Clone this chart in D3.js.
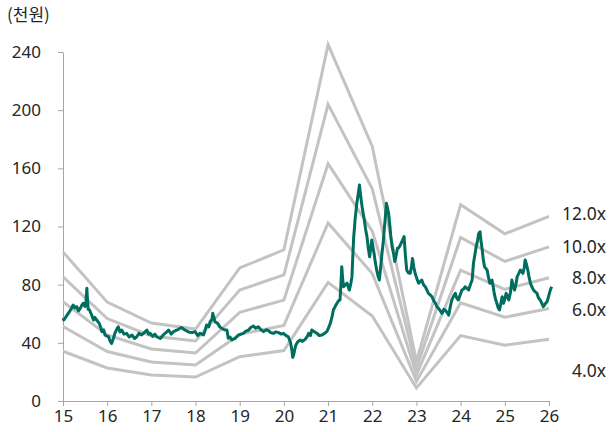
<!DOCTYPE html>
<html>
<head>
<meta charset="utf-8">
<script src="https://cdnjs.cloudflare.com/ajax/libs/d3/7.8.5/d3.min.js"></script>
<style>
  body { margin: 0; background: #fff; }
  .tick text { font-family: "Noto Sans", "DejaVu Sans", sans-serif; font-size: 17px; fill: #262626; }
  .axis path, .axis line { stroke: #a6a6a6; }
  .bandLabel { font-family: "Noto Sans", sans-serif; font-size: 17.5px; fill: #262626; }
</style>
</head>
<body>
<div id="chart"></div>
<script>
// yearly points of the PER band lines (thousand won)
var bandYears = [15, 16, 17, 18, 19, 20, 21, 22, 23, 24, 25, 26];
var band12 = [102.5, 68.0, 53.6, 49.5, 91.5, 104.0, 245.0, 175.0, 27.0, 135.0, 115.0, 127.0];
var band10 = [85.4, 56.7, 44.7, 41.3, 76.3, 86.7, 204.0, 146.0, 22.5, 112.5, 96.0, 106.0];
var band8 = [68.3, 45.4, 35.8, 33.0, 61.0, 69.4, 163.2, 116.8, 18.0, 90.0, 76.8, 84.8];
var band6 = [51.2, 34.0, 26.8, 24.8, 45.8, 52.0, 122.4, 87.6, 13.5, 67.5, 57.6, 63.6];
var band4 = [34.2, 22.7, 17.9, 16.5, 30.5, 34.7, 81.6, 58.4, 9.0, 45.0, 38.4, 42.4];
var bandNames = ["12.0x", "10.0x", "8.0x", "6.0x", "4.0x"];

// share price
var priceX = [15.00, 15.02, 15.07, 15.12, 15.18, 15.23, 15.27, 15.31, 15.35, 15.39, 15.43, 15.46, 15.50, 15.52, 15.54, 15.55, 15.57, 15.60, 15.65, 15.69, 15.72, 15.75, 15.82, 15.86, 15.88, 15.92, 15.95,
  16.00, 16.03, 16.07, 16.10, 16.14, 16.18, 16.22, 16.25, 16.29, 16.33, 16.38, 16.44, 16.50, 16.56, 16.62, 16.67, 16.72, 16.78, 16.84, 16.90, 16.94, 16.97,
  17.03, 17.08, 17.12, 17.20, 17.27, 17.33, 17.39, 17.45, 17.50, 17.56, 17.61, 17.68, 17.76, 17.84, 17.92, 17.99,
  18.05, 18.10, 18.18, 18.22, 18.25, 18.30, 18.33, 18.37, 18.39, 18.42, 18.44, 18.50, 18.55, 18.59, 18.65, 18.71, 18.74, 18.78, 18.82, 18.90, 18.97,
  19.03, 19.08, 19.14, 19.20, 19.25, 19.31, 19.36, 19.42, 19.48, 19.54, 19.60, 19.65, 19.70, 19.76, 19.82, 19.88, 19.94, 19.99,
  20.05, 20.10, 20.15, 20.18, 20.20, 20.22, 20.25, 20.27, 20.32, 20.37, 20.42, 20.48, 20.53, 20.56, 20.60, 20.63, 20.70, 20.75, 20.80, 20.86, 20.92, 20.97,
  21.00, 21.05, 21.09, 21.12, 21.16, 21.20, 21.24, 21.27, 21.29, 21.31, 21.33, 21.35, 21.39, 21.43, 21.46, 21.48, 21.51, 21.54, 21.56, 21.58, 21.60, 21.61, 21.63, 21.65, 21.68, 21.71, 21.73, 21.75, 21.77, 21.80, 21.82, 21.85, 21.88, 21.91, 21.94, 21.97, 21.99,
  22.02, 22.04, 22.07, 22.10, 22.13, 22.16, 22.19, 22.22, 22.25, 22.27, 22.30, 22.32, 22.35, 22.37, 22.40, 22.42, 22.45, 22.48, 22.51, 22.54, 22.57, 22.59, 22.63, 22.67, 22.72, 22.75, 22.78, 22.82, 22.86, 22.89, 22.91, 22.94, 22.97,
  23.01, 23.05, 23.08, 23.12, 23.16, 23.20, 23.24, 23.27, 23.31, 23.35, 23.39, 23.43, 23.46, 23.50, 23.54, 23.58, 23.62, 23.65, 23.69, 23.73, 23.76, 23.80, 23.84, 23.88, 23.91, 23.95, 23.99,
  24.03, 24.07, 24.10, 24.14, 24.18, 24.22, 24.26, 24.29, 24.32, 24.35, 24.38, 24.41, 24.44, 24.46, 24.48, 24.51, 24.54, 24.60, 24.63, 24.66, 24.71, 24.74, 24.76, 24.79, 24.82, 24.85, 24.88, 24.91, 24.94, 24.97,
  25.00, 25.03, 25.06, 25.09, 25.13, 25.16, 25.19, 25.22, 25.25, 25.28, 25.32, 25.35, 25.38, 25.41, 25.44, 25.46, 25.49, 25.52, 25.55, 25.58, 25.62, 25.65, 25.69, 25.73, 25.76, 25.80, 25.84, 25.87, 25.90, 25.92, 25.95, 25.97,
  26.00, 26.03, 26.06];
var priceY = [57, 55.7, 58, 60.3, 63, 66, 64, 64.9, 62, 63.7, 66, 67.2, 65, 68.3, 77.5, 72, 63, 62.6, 59, 55.7, 57.5, 56.2, 53.4, 50, 47.7, 49, 45.4,
  44.5, 44.2, 41, 39.5, 43, 47, 49.5, 51, 47.5, 48.8, 46, 46.5, 44, 45.4, 43, 44.2, 46.5, 45.4, 47, 48.8, 46, 46.5,
  44.5, 46, 44.2, 43, 45.4, 47, 48.8, 46, 47.7, 48.5, 49.3, 50.5, 48.8, 47.5, 47, 47.7,
  45, 46.5, 45.4, 49, 52.3, 51, 54.5, 56, 60.3, 57, 54.5, 53.4, 51, 50, 49, 48.8, 43.1, 44, 42, 43.1, 45.4,
  46, 46.5, 48, 48.8, 50.5, 51.6, 50, 51.1, 49, 47.7, 49, 48.4, 47, 46.5, 47.5, 47, 46, 46.5,
  45, 44.2, 40, 35, 30, 31.6, 36, 38.5, 41, 42, 41, 42.4, 44.5, 46.5, 45, 48.8, 47.5, 46.5, 45, 45.4, 46.5, 47.7,
  49.5, 53.4, 58, 62.6, 65, 67.2, 69, 69.5, 80, 92.4, 84, 78.6, 80, 81, 78, 76.3, 80, 85.5, 100, 113, 120, 124.5, 130, 136, 142, 148.6, 143, 138, 133.6, 128, 124.5, 118, 113, 105, 99.2, 106, 110.7,
  105, 101.6, 95, 90, 86, 83.2, 92, 101.6, 110, 117.6, 128, 136, 132, 129, 120, 113, 106, 101.6, 96, 100, 105, 105, 107, 109.6, 113, 100, 90, 88, 87.8, 93, 98, 92, 87.8,
  84, 81, 82, 83.2, 80, 78.6, 76, 74, 73, 71.7, 69, 67.2, 65, 63.7, 62, 60.3, 63, 62.6, 61, 59, 64, 69.5, 72, 74, 71, 69.5, 73,
  76.3, 77, 78.6, 77.5, 76.3, 80, 83.2, 94.7, 100, 106, 110, 115.3, 116.4, 110, 106, 98, 92.4, 90, 85, 81, 83.2, 78, 74, 70, 67.2, 64, 62.6, 67, 71.7, 67.2,
  70, 74, 72, 69.5, 75, 83.2, 79, 76.3, 80, 85.5, 88, 90, 89, 87.8, 92, 97, 94, 90, 85, 81, 78, 76.3, 75, 74, 71, 69.5, 67, 64.9, 66, 67.2, 68, 69.5,
  73, 76.3, 78.6];

var yTicks = [0, 40, 80, 120, 160, 200, 240];
var xTicks = [15, 16, 17, 18, 19, 20, 21, 22, 23, 24, 25, 26];

var svgWidth = 611;
var svgHeight = 432;

var svg = d3.select("#chart")
  .append("svg")
  .attr("width", svgWidth)
  .attr("height", svgHeight);

// scales
var xScale = d3.scaleLinear()
  .domain([15, 26])
  .range([63, 549]);

var yScale = d3.scaleLinear()
  .domain([0, 240])
  .range([401, 52]);

// axes
svg.append("g")
  .attr("class", "axis")
  .attr("transform", "translate(0, 401)")
  .call(d3.axisBottom(xScale).tickValues(xTicks).tickFormat(d3.format("d")).tickSizeInner(5).tickSizeOuter(0).tickPadding(4));

svg.append("g")
  .attr("class", "axis")
  .attr("transform", "translate(63, 0)")
  .call(d3.axisLeft(yScale).tickValues(yTicks).tickSizeInner(5).tickSizeOuter(0).tickPadding(17));

// unit label
svg.append("text")
  .attr("x", 7)
  .attr("y", 21)
  .attr("font-family", "'Noto Sans CJK KR', sans-serif")
  .attr("font-size", "17px")
  .attr("fill", "#262626")
  .text("(천원)");

// band lines
var bands = [band12, band10, band8, band6, band4];
var bandLine = d3.line()
  .x(function(d, i) { return xScale(bandYears[i]); })
  .y(function(d) { return yScale(d); });

svg.selectAll(".band")
  .data(bands)
  .enter()
  .append("path")
  .attr("class", "band")
  .attr("d", function(d) { return bandLine(d); })
  .attr("fill", "none")
  .attr("stroke", "#c3c3c3")
  .attr("stroke-width", 3)
  .attr("stroke-linejoin", "miter");

// price line
var priceLine = d3.line()
  .x(function(d, i) { return xScale(priceX[i]); })
  .y(function(d) { return yScale(d); });

svg.append("path")
  .attr("d", priceLine(priceY))
  .attr("fill", "none")
  .attr("stroke", "#006e5f")
  .attr("stroke-width", 3)
  .attr("stroke-linejoin", "round");

// band labels, placed at the right edge
var labelAt = [129, 106, 84.5, 63, 21];
svg.selectAll(".bandLabel")
  .data(bandNames)
  .enter()
  .append("text")
  .attr("class", "bandLabel")
  .attr("x", 606)
  .attr("y", function(d, i) { return yScale(labelAt[i]); })
  .attr("dy", "0.35em")
  .attr("text-anchor", "end")
  .text(function(d) { return d; });
</script>
</body>
</html>
